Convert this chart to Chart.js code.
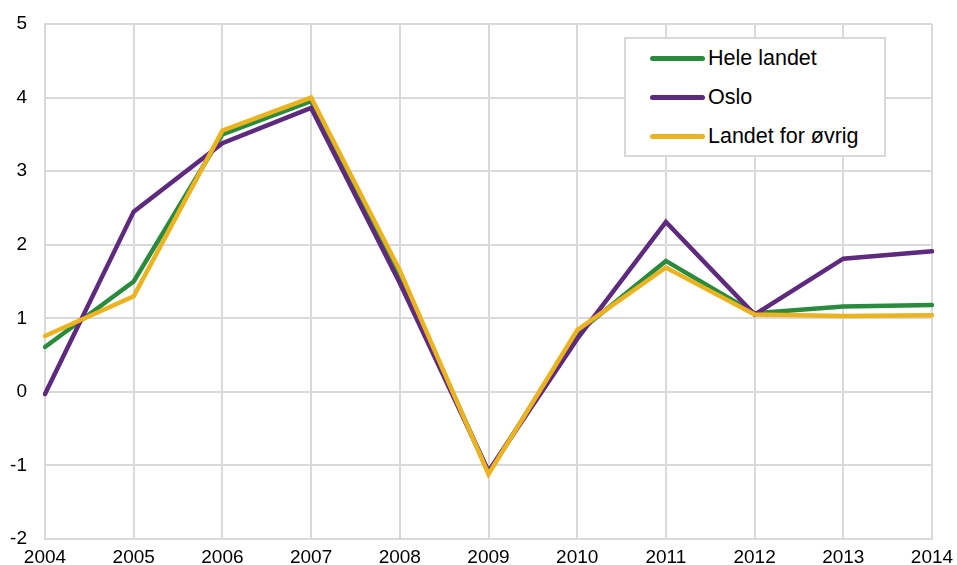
<!DOCTYPE html>
<html>
<head>
<meta charset="utf-8">
<script src="https://cdn.jsdelivr.net/npm/chart.js@4"></script>
<style>
  body { margin: 0; background: #fff; }
  #wrap { position: relative; width: 957px; height: 565px; }
  #legend {
    position: absolute; left: 624px; top: 37px; width: 258px; height: 116px;
    border: 2px solid #d9d9d9; background: #fff;
    font-family: "Liberation Sans", Arial, sans-serif; font-size: 21.5px; color: #000;
  }
  .item { position: absolute; left: 24px; height: 24px; display: flex; align-items: center; }
  .swatch { width: 55px; height: 5px; border-radius: 3px; margin-right: 3px; }
</style>
</head>
<body>
<div id="wrap">
  <canvas id="chart" width="957" height="565"></canvas>
  <div id="legend"></div>
</div>
<script>
const years = ['2004','2005','2006','2007','2008','2009','2010','2011','2012','2013','2014'];
const heleLandet = [0.61, 1.5, 3.5, 3.95, 1.6, -1.1, 0.8, 1.78, 1.07, 1.16, 1.18];
const oslo = [-0.03, 2.45, 3.38, 3.86, 1.48, -1.08, 0.72, 2.31, 1.05, 1.81, 1.91];
const landetForOvrig = [0.76, 1.3, 3.55, 4.0, 1.65, -1.12, 0.84, 1.69, 1.05, 1.03, 1.04];
const seriesNames = ['Hele landet', 'Oslo', 'Landet for øvrig'];
const seriesColors = ['#2a8a3e', '#5e2a7e', '#ebb320'];

const gridColor = '#d9d9d9';
const font = { family: '"Liberation Sans", Arial, sans-serif', size: 19 };

// legend in a box inside the plot
const legend = document.getElementById('legend');
seriesNames.forEach(function(name, i){
  const row = document.createElement('div');
  row.className = 'item';
  row.style.top = (7 + i * 39) + 'px';
  row.innerHTML = '<span class="swatch" style="background:' + seriesColors[i] + '"></span>' + name;
  legend.appendChild(row);
});

const ctx = document.getElementById('chart');
new Chart(ctx, {
  type: 'line',
  data: {
    labels: years,
    datasets: [
      { label: seriesNames[0], data: heleLandet, borderColor: seriesColors[0], order: 2 },
      { label: seriesNames[1], data: oslo, borderColor: seriesColors[1], order: 1 },
      { label: seriesNames[2], data: landetForOvrig, borderColor: seriesColors[2], order: 0 }
    ]
  },
  options: {
    responsive: false,
    animation: false,
    layout: { padding: { top: 24, right: 25, left: 0, bottom: 0 } },
    elements: {
      line: { borderWidth: 4.5, tension: 0, borderCapStyle: 'round', borderJoinStyle: 'miter' },
      point: { radius: 0 }
    },
    plugins: { legend: { display: false }, tooltip: { enabled: false } },
    scales: {
      x: {
        offset: false,
        grid: { color: gridColor, lineWidth: 2, drawTicks: false },
        border: { color: gridColor, width: 2 },
        ticks: { color: '#000', font: font, padding: 7, maxRotation: 0, autoSkip: false },
        afterFit: function(s){ s.height = 26; s.paddingLeft = 0; s.paddingRight = 0; }
      },
      y: {
        min: -2, max: 5,
        grid: { color: gridColor, lineWidth: 2, drawTicks: false },
        border: { color: gridColor, width: 2 },
        ticks: { color: '#000', font: font, padding: 18, stepSize: 1 },
        afterFit: function(s){ s.width = 45; s.paddingTop = 0; s.paddingBottom = 0; }
      }
    }
  }
});
</script>
</body>
</html>
